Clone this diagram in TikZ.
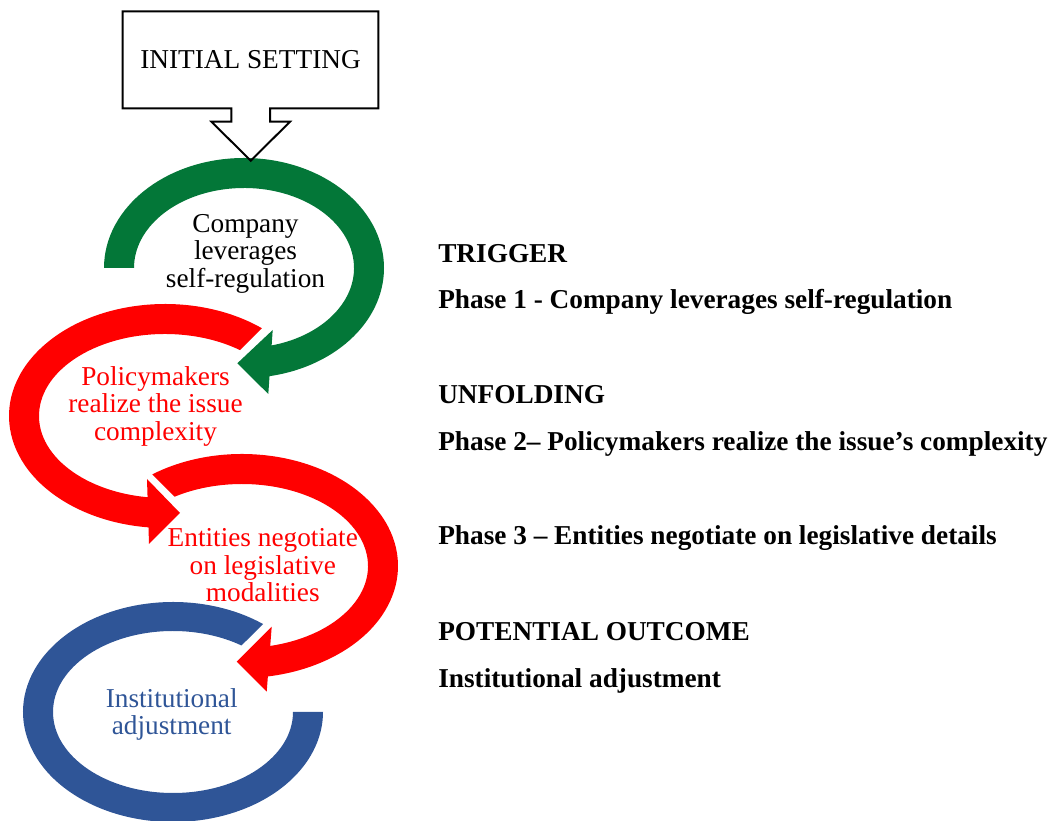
\documentclass[tikz,border=0pt]{standalone}
\usepackage{fontspec}
\setmainfont{Liberation Serif}
\usepackage{tikz}
\usetikzlibrary{calc}
\definecolor{ringgreen}{RGB}{3,119,56}
\definecolor{ringred}{RGB}{255,0,0}
\definecolor{ringblue}{RGB}{47,85,151}
\newcommand{\bigtext}{\fontsize{19.4}{19.7}\selectfont}

\begin{document}
\begin{tikzpicture}[x=0.025cm, y=0.025cm,
  callout/.style={draw=black, line width=1.4pt, line join=miter},
  ringtext/.style={align=center, inner sep=0pt, font=\bigtext},
  phase/.style={anchor=base west, inner sep=0pt, font=\bigtext\bfseries}]

    \useasboundingbox (0,0) rectangle (1056,820);

    \coordinate (gc) at (244,552);
    \coordinate (rc1) at (165,404);
    \coordinate (rc2) at (242,254);
    \coordinate (bc) at (173,108);

    % outcome ring
    \fill[ringblue] ($(bc)+(53.1:150 and 110)$) arc[start angle=53.1, end angle=360, x radius=150, y radius=110]
      -- ($(bc)+(0:120 and 81)$) arc[start angle=360, end angle=55.2, x radius=120, y radius=81] -- cycle;

    % phase 3
    \fill[ringred] ($(rc2)+(125.1:156 and 112)$) arc[start angle=125.1, end angle=-82, x radius=156, y radius=112]
      -- ($(rc2)+(-82:126 and 82)$) arc[start angle=-82, end angle=122.3, x radius=126, y radius=82] -- cycle;
    \fill[ringred] (271.7,193.3) -- (236.7,158.3) -- (266.7,128.3) -- cycle;

    % phase 2
    \fill[ringred] ($(rc1)+(51.6:156 and 112)$) arc[start angle=51.6, end angle=268, x radius=156, y radius=112]
      -- ($(rc1)+(268:126 and 82)$) arc[start angle=268, end angle=53.5, x radius=126, y radius=82] -- cycle;
    \fill[ringred] (147,341) -- (180,307) -- (149,276) -- cycle;

    % phase 1
    \fill[ringgreen] ($(gc)+(180:140 and 110)$) arc[start angle=180, end angle=-82, x radius=140, y radius=110]
      -- ($(gc)+(-82:110 and 80)$) arc[start angle=-82, end angle=180, x radius=110, y radius=80] -- cycle;
    \fill[ringgreen] (272.7,490) -- (237.3,456.7) -- (268.3,426) -- cycle;

    \node[minimum width=6.39cm, minimum height=2.425cm, inner sep=0pt, outer sep=0pt, font=\bigtext] (init) at (250.5,760.2) {INITIAL SETTING};
    \draw[callout] (init.south west) -- (init.north west) -- (init.north east) -- (init.south east)
      -- ++(-108.3,0) -- ++(0,-13.4) -- ++(20,0) -- ++(-39.3,-39) -- ++(-39.3,39) -- ++(20,0) -- ++(0,13.4) -- cycle;

    \node[ringtext] (comp) at (245.5,566.1) {Company\\leverages\\self-regulation};
    \node[ringtext, text=ringred] (pol) at (155.5,413.7) {Policymakers\\realize the issue\\complexity};
    \node[ringtext, text=ringred] (ent) at (262.8,254.8) {Entities negotiate\\on legislative\\modalities};
    \node[ringtext, text=ringblue] (inst) at (171.7,105.7) {Institutional\\adjustment};

    \node[phase] (trig) at (438,557) {TRIGGER};
    \node[phase] (ph1) at (438,511.5) {Phase 1 - Company leverages self-regulation};
    \node[phase] (unf) at (438,416) {UNFOLDING};
    \node[phase] (ph2) at (438,369) {Phase 2– Policymakers realize the issue’s complexity};
    \node[phase] (ph3) at (438,275) {Phase 3 – Entities negotiate on legislative details};
    \node[phase] (pout) at (438,179) {POTENTIAL OUTCOME};
    \node[phase] (outc) at (438,132) {Institutional adjustment};

\end{tikzpicture}
\end{document}
